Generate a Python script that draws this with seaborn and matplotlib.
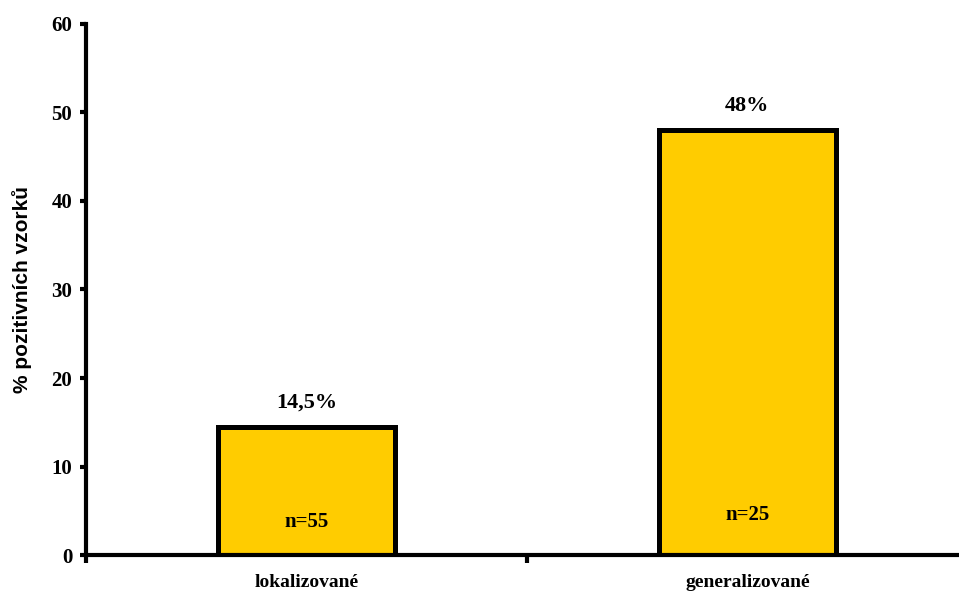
import matplotlib
matplotlib.use("Agg")
import matplotlib.pyplot as plt
import seaborn as sns
import pandas as pd

categories = ["lokalizované", "generalizované"]
values = [14.5, 48]
value_labels = ["14,5%", "48%"]
n_labels = ["n=55", "n=25"]
n_label_y = [3.7, 4.5]
yticks = [0, 10, 20, 30, 40, 50, 60]

sns.set_theme(style="white")
plt.rcParams['font.family'] = ['Liberation Serif', 'DejaVu Serif']
plt.rcParams['text.color'] = 'black'
plt.rcParams['xtick.color'] = 'black'
plt.rcParams['ytick.color'] = 'black'
plt.rcParams['axes.labelcolor'] = 'black'

df = pd.DataFrame({"cat": categories, "val": values})

fig = plt.figure(figsize=(9.59, 5.95), dpi=100)
ax = fig.add_axes([0.0897, 0.0672, 0.9103, 0.8925])

sns.barplot(data=df, x="cat", y="val", ax=ax, color="#FFCC00", saturation=1,
            width=0.4, edgecolor="black", linewidth=3.6)

ax.set_xlim(-0.5, 1.48)
ax.set_ylim(0, 60)
ax.set_yticks(yticks)
ax.set_yticklabels([str(t) for t in yticks], fontsize=15, fontweight="bold")

ax.set_xticks([-0.5, 0.5])
ax.set_xticklabels(["", ""])
ax.set_xticks([0, 1], minor=True)
ax.set_xticklabels(categories, minor=True, fontsize=14, fontweight="bold")
ax.tick_params(axis="x", which="minor", bottom=True, length=0, pad=14)
ax.tick_params(axis="x", which="major", bottom=True, length=6, width=3, direction="out")
ax.tick_params(axis="y", left=True, length=4, width=3, direction="out", pad=6)
ax.set_xlabel("")
ax.set_ylabel("% pozitivních vzorků", fontsize=15, fontweight="bold",
              family=["Liberation Sans", "DejaVu Sans"], labelpad=14)

for s in ["top", "right"]:
    ax.spines[s].set_visible(False)
for s in ["left", "bottom"]:
    ax.spines[s].set_linewidth(3)
    ax.spines[s].set_color("black")

for i, (v, lab) in enumerate(zip(values, value_labels)):
    ax.annotate(lab, (i, v), xytext=(0, 10), textcoords="offset points",
                ha="center", va="bottom", fontsize=16, fontweight="bold")
for i, (ny, lab) in enumerate(zip(n_label_y, n_labels)):
    ax.text(i, ny, lab, ha="center", va="center", fontsize=15, fontweight="bold")

fig.savefig("out.png", dpi=100)
